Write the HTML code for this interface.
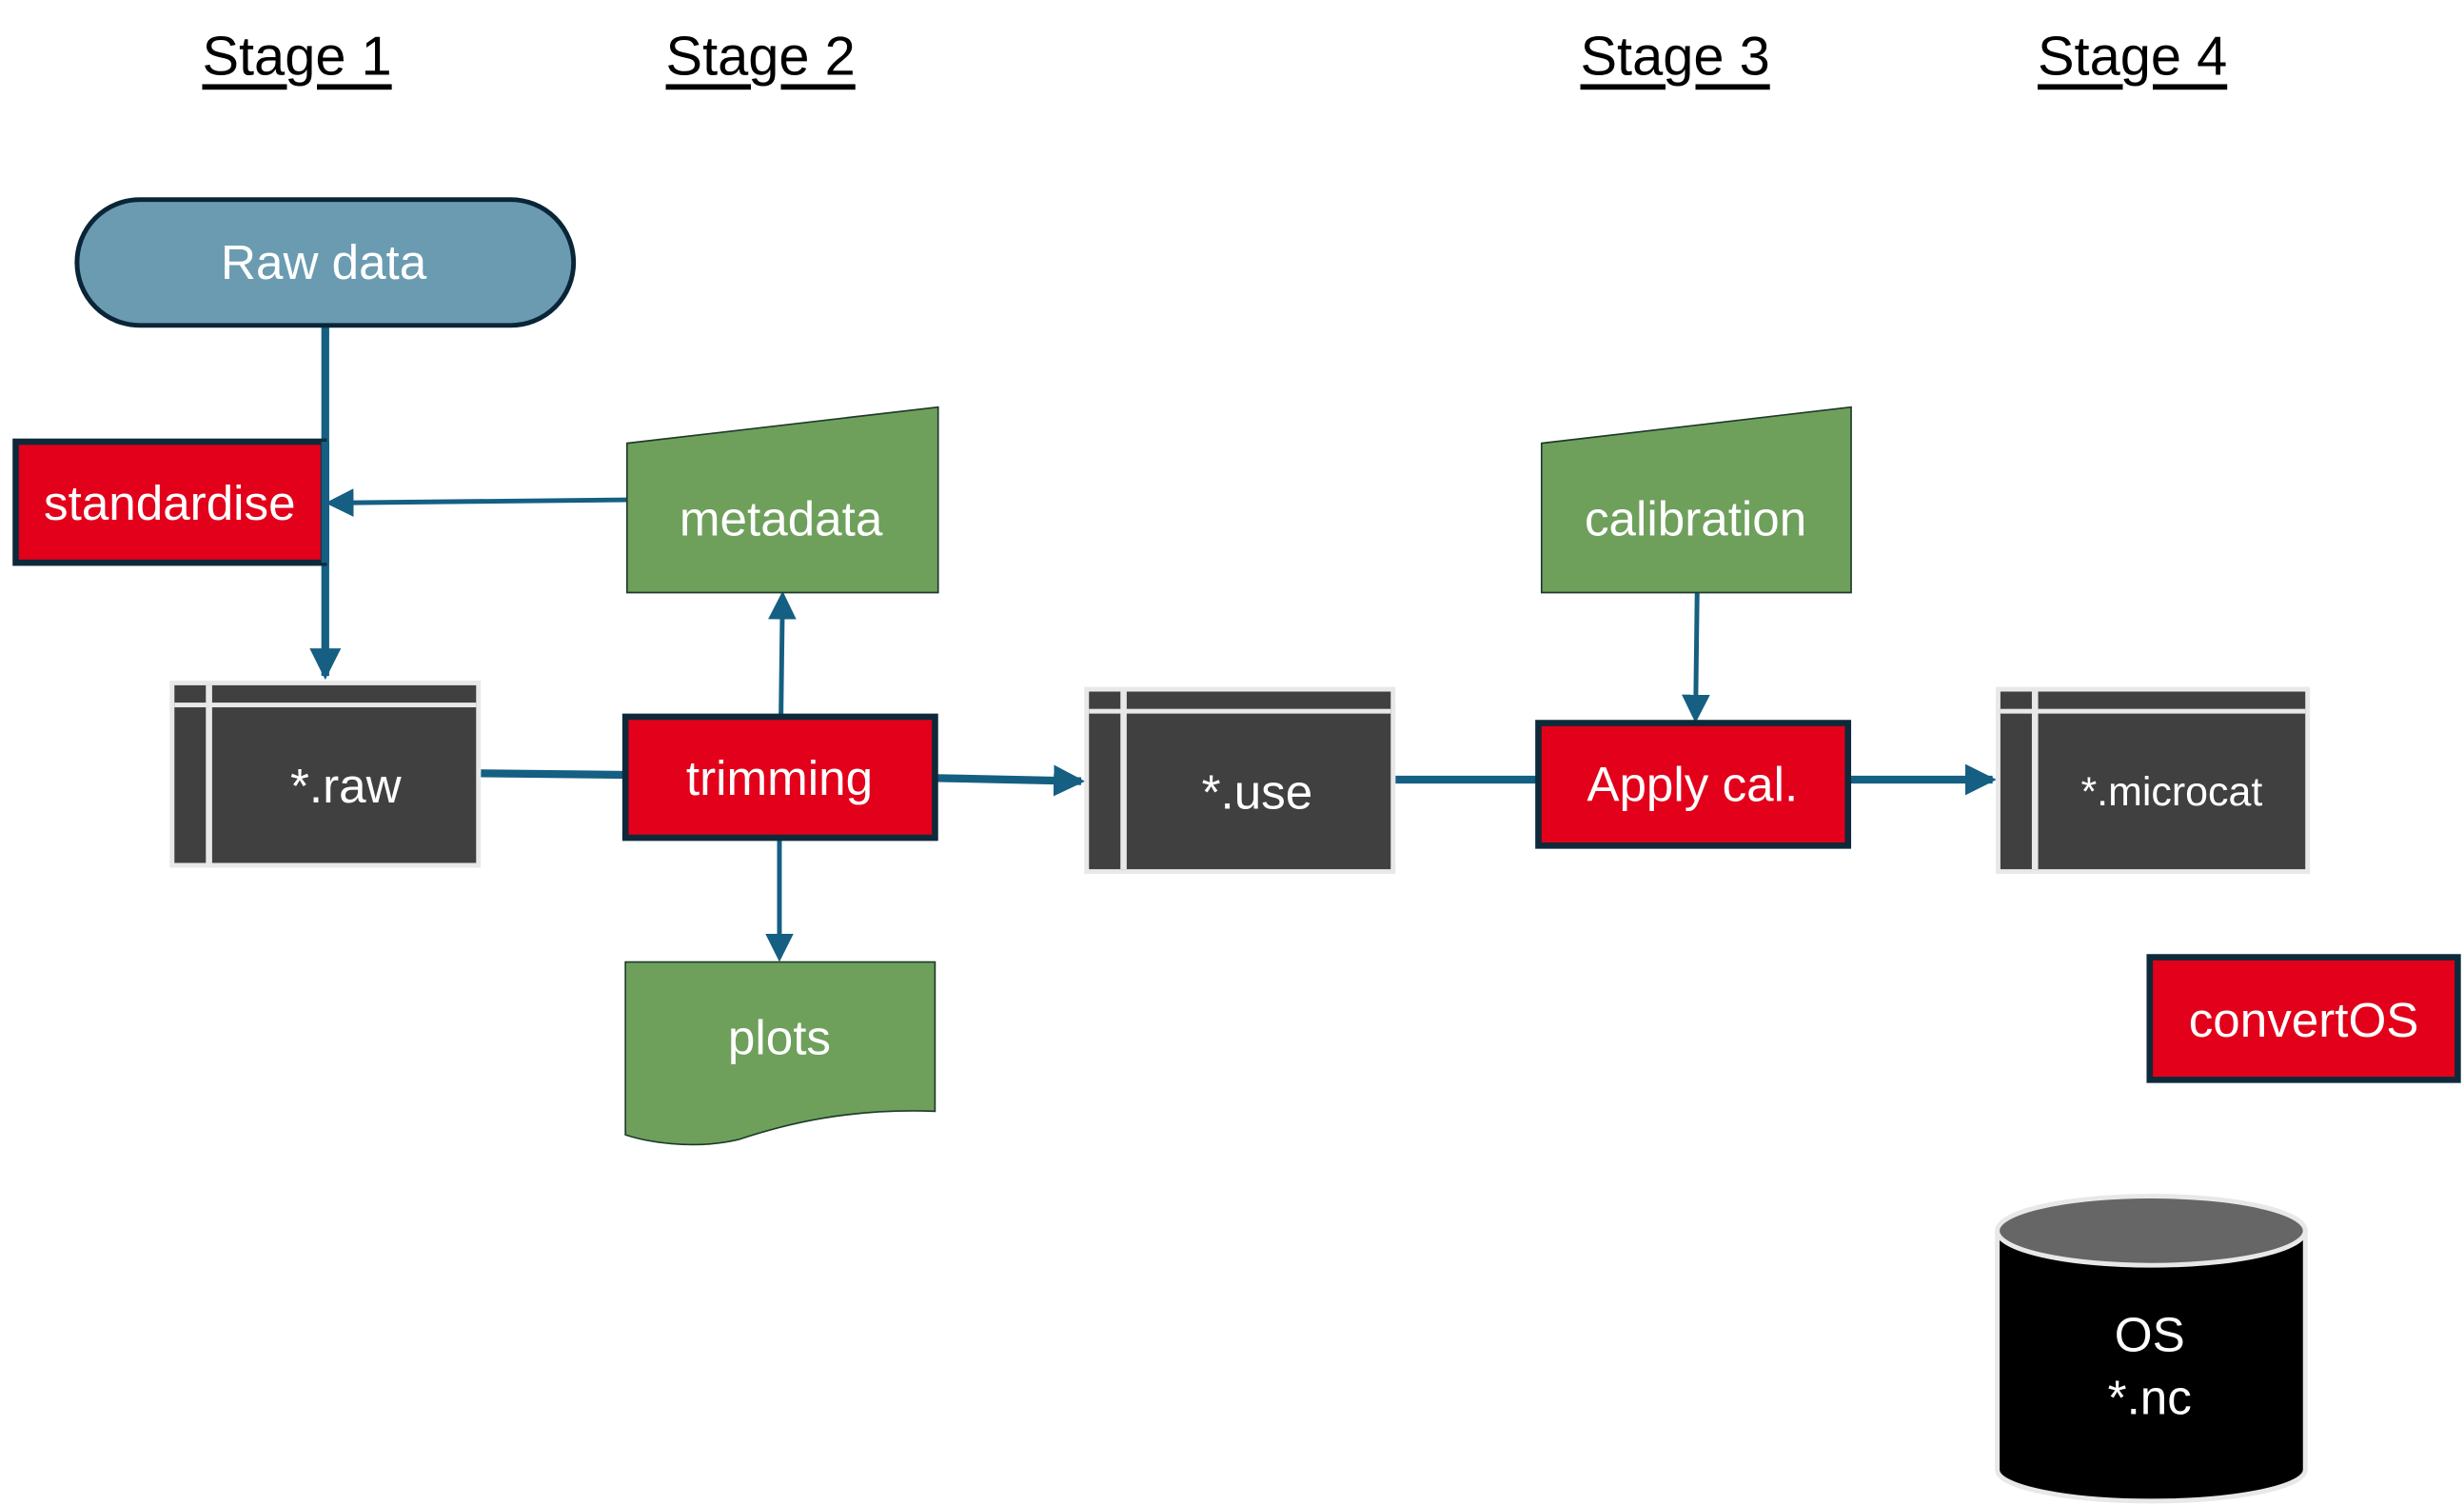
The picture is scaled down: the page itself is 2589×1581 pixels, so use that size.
<!DOCTYPE html>
<html><head><meta charset="utf-8"><style>
html,body{margin:0;padding:0;background:#fff;}
svg{display:block;}
text{font-family:"Liberation Sans",sans-serif;fill:#fff;text-anchor:middle;dominant-baseline:central;}
.h{fill:#000;font-size:35px;text-decoration:underline;}
.t{font-size:31px;}
.ln{stroke:#155f82;stroke-width:5;fill:none;}
.ln2{stroke:#155f82;stroke-width:3;fill:none;}
.red{fill:#e2001a;stroke:#0e2a3a;stroke-width:4;}
.grn{fill:#6ea05c;stroke:#1f3a2a;stroke-width:1;}
</style></head><body>
<svg width="2589" height="1581" viewBox="0 0 1568 957.5" preserveAspectRatio="none" xmlns="http://www.w3.org/2000/svg">
<defs>
<marker id="a" markerWidth="4" markerHeight="4" refX="3.5" refY="2" orient="auto" markerUnits="strokeWidth"><path d="M0,0 L4,2 L0,4 Z" fill="#155f82"/></marker>
<marker id="b" markerWidth="6" markerHeight="6" refX="5" refY="3" orient="auto" markerUnits="strokeWidth"><path d="M0,0 L6,3 L0,6 Z" fill="#155f82"/></marker>
</defs>
<text class="h" x="189" y="36">Stage 1</text>
<text class="h" x="484" y="36">Stage 2</text>
<text class="h" x="1066" y="36">Stage 3</text>
<text class="h" x="1357" y="36">Stage 4</text>

<line class="ln" x1="207" y1="207" x2="207" y2="430" marker-end="url(#a)"/>
<line class="ln2" x1="399" y1="318" x2="210" y2="320" marker-end="url(#b)"/>
<line class="ln" x1="306" y1="492" x2="398" y2="493"/>
<line class="ln" x1="596" y1="495" x2="688" y2="497" marker-end="url(#a)"/>
<line class="ln2" x1="497" y1="455" x2="498" y2="379" marker-end="url(#b)"/>
<line class="ln2" x1="496" y1="534" x2="496" y2="609" marker-end="url(#b)"/>
<line class="ln" x1="888" y1="496" x2="978" y2="496"/>
<line class="ln2" x1="1080" y1="377" x2="1079" y2="457" marker-end="url(#b)"/>
<line class="ln" x1="1177" y1="496" x2="1268" y2="496" marker-end="url(#a)"/>

<rect x="49" y="127" width="316" height="80" rx="40" fill="#6a9bb1" stroke="#0a2538" stroke-width="3"/>
<text class="t" x="206" y="167">Raw data</text>

<rect class="red" x="10" y="281" width="196" height="77"/>
<line class="ln" x1="207" y1="281" x2="207" y2="358"/>
<text class="t" x="108" y="320">standardise</text>

<polygon class="grn" points="399,282 597,259 597,377 399,377"/>
<text class="t" x="497" y="330">metadata</text>

<polygon class="grn" points="981,282 1178,259 1178,377 981,377"/>
<text class="t" x="1079" y="330">calibration</text>

<g>
<rect x="108" y="433" width="198" height="119" fill="#e8e8e8"/>
<rect x="111" y="436" width="192" height="113" fill="#404040"/>
<rect x="111" y="447" width="192" height="3" fill="#e8e8e8"/>
<rect x="131" y="436" width="4" height="113" fill="#e8e8e8"/>
<text class="t" x="220" y="500">*.raw</text>
</g>
<g>
<rect x="690" y="437" width="198" height="119" fill="#e8e8e8"/>
<rect x="693" y="440" width="192" height="113" fill="#404040"/>
<rect x="693" y="451" width="192" height="3" fill="#e8e8e8"/>
<rect x="713" y="440" width="4" height="113" fill="#e8e8e8"/>
<text class="t" x="800" y="504">*.use</text>
</g>
<g>
<rect x="1270" y="437" width="200" height="119" fill="#e8e8e8"/>
<rect x="1273" y="440" width="194" height="113" fill="#404040"/>
<rect x="1273" y="451" width="194" height="3" fill="#e8e8e8"/>
<rect x="1293" y="440" width="4" height="113" fill="#e8e8e8"/>
<text x="1382" y="504" style="font-size:26px">*.microcat</text>
</g>

<rect class="red" x="398" y="456" width="197" height="77"/>
<text class="t" x="496" y="495">trimming</text>

<path class="grn" d="M398,612 L595,612 L595,707 C540,705 500,715 470,725 C440,732 410,726 398,722 Z"/>
<text class="t" x="496" y="660">plots</text>

<rect class="red" x="979" y="460" width="197" height="78"/>
<text class="t" x="1077" y="499">Apply cal.</text>

<rect class="red" x="1368" y="609" width="196" height="78"/>
<text class="t" x="1466" y="649">convertOS</text>

<path d="M1271,783 L1271,935 A98,20 0 0 0 1467,935 L1467,783 Z" fill="#000" stroke="#e8e8e8" stroke-width="3"/>
<ellipse cx="1369" cy="783" rx="98" ry="22" fill="#666" stroke="#e8e8e8" stroke-width="3"/>
<text class="t" x="1368" y="849">OS</text>
<text class="t" x="1368" y="889">*.nc</text>
</svg>
</body></html>
